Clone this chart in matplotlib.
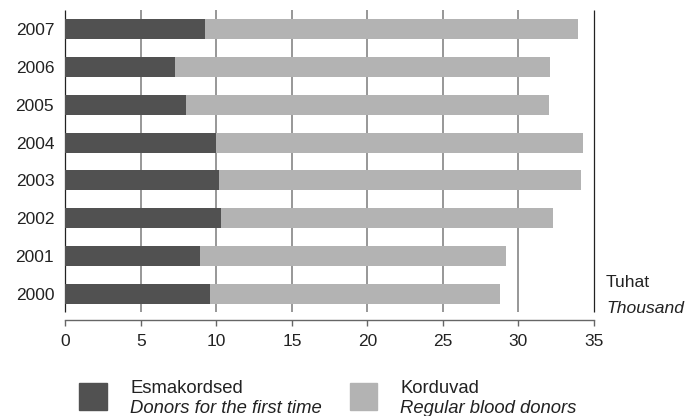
import matplotlib.pyplot as plt
from matplotlib.patches import Rectangle

plt.rcParams['font.family'] = ['Liberation Sans', 'DejaVu Sans']

# data (thousand donors)
years = ['2000', '2001', '2002', '2003', '2004', '2005', '2006', '2007']
first_time = [9.56, 8.90, 10.34, 10.17, 10.00, 7.97, 7.24, 9.24]
regular = [19.21, 20.28, 21.94, 23.96, 24.28, 24.05, 24.84, 24.69]

label_first = 'Esmakordsed'
label_first_en = 'Donors for the first time'
label_regular = 'Korduvad'
label_regular_en = 'Regular blood donors'
unit_et = 'Tuhat'
unit_en = 'Thousand'

dark = '#515151'
light = '#b3b3b3'

W, H = 686, 416
fig = plt.figure(figsize=(W / 100, H / 100), dpi=100)
ax = fig.add_axes([65.3 / W, (H - 320) / H, (594 - 65.3) / W, 310 / H])

pos = list(range(len(years)))
ax.barh(pos, first_time, height=0.53, color=dark, zorder=3)
ax.barh(pos, regular, left=first_time, height=0.53, color=light, zorder=3)

ax.set_xlim(0, 35)
ax.set_ylim(-0.687, 7.502)

# vertical grid lines (stop short of the x axis line)
for x in range(0, 36, 5):
    if x in (0, 35):
        ax.vlines(x, -0.475, 7.502, color='#222222', lw=0.9, zorder=2, clip_on=False)
    else:
        ax.vlines(x, -0.475, 7.502, color='#858585', lw=1.2, zorder=2)

for s in ['top', 'right', 'left']:
    ax.spines[s].set_visible(False)
ax.spines['bottom'].set_color('#666666')
ax.spines['bottom'].set_linewidth(1.0)

ax.set_xticks(range(0, 36, 5))
ax.tick_params(axis='x', direction='out', length=4, width=1.0, color='#666666',
               labelsize=12.5, pad=6, labelcolor='#222222')
ax.set_yticks(pos)
ax.set_yticklabels(years)
ax.tick_params(axis='y', length=0, labelsize=12.5, pad=8, labelcolor='#222222')

# unit label
fig.text(606 / W, (H - 287) / H, unit_et, fontsize=12.6, color='#222222', va='baseline')
fig.text(606 / W, (H - 313) / H, unit_en, fontsize=12.6, color='#222222', va='baseline',
         style='italic')

# legend
fig.add_artist(Rectangle((79 / W, (H - 410) / H), 28 / W, 27 / H,
                         transform=fig.transFigure, color=dark))
fig.text(130 / W, (H - 393) / H, label_first, fontsize=13.3, color='#222222', va='baseline')
fig.text(130 / W, (H - 413) / H, label_first_en, fontsize=13.3, color='#222222',
         va='baseline', style='italic')

fig.add_artist(Rectangle((350 / W, (H - 410) / H), 27 / W, 27 / H,
                         transform=fig.transFigure, color=light))
fig.text(400 / W, (H - 393) / H, label_regular, fontsize=13.3, color='#222222', va='baseline')
fig.text(400 / W, (H - 413) / H, label_regular_en, fontsize=13.3, color='#222222',
         va='baseline', style='italic')

plt.savefig('out.png', dpi=100)
plt.close()
